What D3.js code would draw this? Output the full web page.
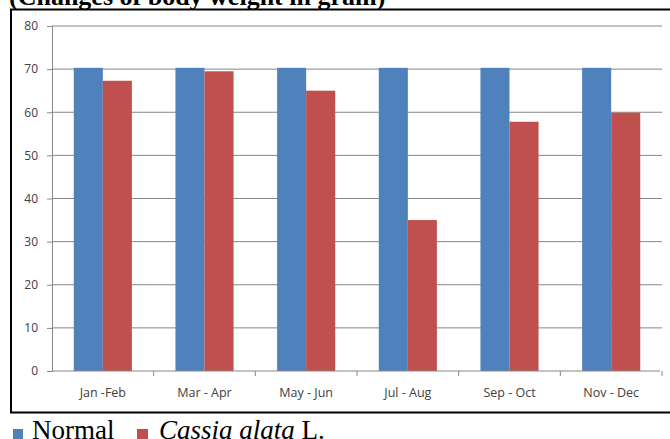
<!DOCTYPE html>
<html>
<head>
<meta charset="utf-8">
<title>Body weight changes</title>
<style>
  body { margin: 0; background: #fff; }
  svg { display: block; }
  .tick text { font-family: "Open Sans", "Liberation Sans", sans-serif; font-size: 12px; fill: #404040; }
</style>
</head>
<body>
<div id="chart"></div>
<script src="https://d3js.org/d3.v7.min.js"></script>
<script>
// data
var periods = ["Jan -Feb", "Mar - Apr", "May - Jun", "Jul - Aug", "Sep - Oct", "Nov - Dec"];
var normal  = [70.3, 70.3, 70.3, 70.3, 70.3, 70.3];
var cassia  = [67.3, 69.5, 65.0, 35.0, 57.8, 59.9];
var yTicks  = [0, 10, 20, 30, 40, 50, 60, 70, 80];
var seriesNames = ["Normal", "Cassia"];
var colors = ["#4F81BD", "#C0504D"];

var W = 670, H = 439;
var m = {left: 52, right: 8, top: 26, bottom: 68};

var svg = d3.select("#chart").append("svg")
    .attr("width", W).attr("height", H);

// title, cut at the top like the source
svg.append("text")
    .attr("x", 9).attr("y", 5)
    .style("font-family", "'Liberation Serif', 'Times New Roman', serif")
    .style("font-weight", "bold")
    .style("font-size", "26px")
    .text("(Changes of body weight in gram)");

// outer frame
svg.append("rect")
    .attr("x", 11).attr("y", 9.5)
    .attr("width", 670).attr("height", 403)
    .attr("fill", "none").attr("stroke", "#000").attr("stroke-width", 2);

var x = d3.scaleBand().domain(periods).range([m.left, W - m.right]).padding(0);
// excel style: gap width 75% -> each group takes band / 1.75
var x1 = d3.scaleBand().domain(seriesNames).range([0, x.bandwidth()]).paddingInner(0).paddingOuter(0.75);
var y = d3.scaleLinear().domain([0, 80]).range([H - m.bottom, m.top]);

// gridlines
svg.append("g").selectAll("line")
    .data(yTicks.filter(function(d){ return d > 0; }))
    .join("line")
    .attr("x1", m.left).attr("x2", W - m.right)
    .attr("y1", function(d){ return y(d); }).attr("y2", function(d){ return y(d); })
    .attr("stroke", "#868686").attr("stroke-width", 1);

// bars
var groups = svg.append("g").selectAll("g")
    .data(periods)
    .join("g")
    .attr("transform", function(d){ return "translate(" + x(d) + ",0)"; });

groups.selectAll("rect")
    .data(function(d, i){ return [{k: "Normal", v: normal[i]}, {k: "Cassia", v: cassia[i]}]; })
    .join("rect")
    .attr("x", function(d){ return x1(d.k); })
    .attr("width", x1.bandwidth())
    .attr("y", function(d){ return y(d.v); })
    .attr("height", function(d){ return y(0) - y(d.v); })
    .attr("fill", function(d, i){ return colors[i]; });

// y axis
var yAxis = svg.append("g")
    .attr("transform", "translate(" + m.left + ",0)")
    .call(d3.axisLeft(y).tickValues(yTicks).tickSize(5).tickPadding(9));
yAxis.selectAll("path, line").attr("stroke", "#868686");

// x axis with ticks between categories
var xAxis = svg.append("g")
    .attr("transform", "translate(0," + y(0) + ")");
xAxis.append("line")
    .attr("x1", m.left).attr("x2", W - m.right - 2)
    .attr("stroke", "#868686");
xAxis.selectAll(".sep")
    .data(periods)
    .join("line")
    .attr("x1", function(d){ return x(d) + x.bandwidth(); })
    .attr("x2", function(d){ return x(d) + x.bandwidth(); })
    .attr("y1", 0).attr("y2", 5)
    .attr("stroke", "#868686");
xAxis.selectAll(".lbl")
    .data(periods)
    .join("text")
    .attr("x", function(d){ return x(d) + x.bandwidth() / 2; })
    .attr("y", 26)
    .attr("text-anchor", "middle")
    .style("font-family", "'Open Sans', 'Liberation Sans', sans-serif")
    .style("font-size", "12.5px")
    .style("fill", "#404040")
    .text(function(d){ return d; });

// legend
var lg = svg.append("g").style("font-family", "'Liberation Serif', 'Times New Roman', serif").style("font-size", "27px");
lg.append("rect").attr("x", 13).attr("y", 429).attr("width", 10).attr("height", 10).attr("fill", colors[0]);
lg.append("text").attr("x", 32).attr("y", 439).text("Normal");
lg.append("rect").attr("x", 137).attr("y", 429).attr("width", 11).attr("height", 10).attr("fill", colors[1]);
var t = lg.append("text").attr("x", 159).attr("y", 439);
t.append("tspan").style("font-style", "italic").text("Cassia alata");
t.append("tspan").text(" L.");
</script>
</body>
</html>
